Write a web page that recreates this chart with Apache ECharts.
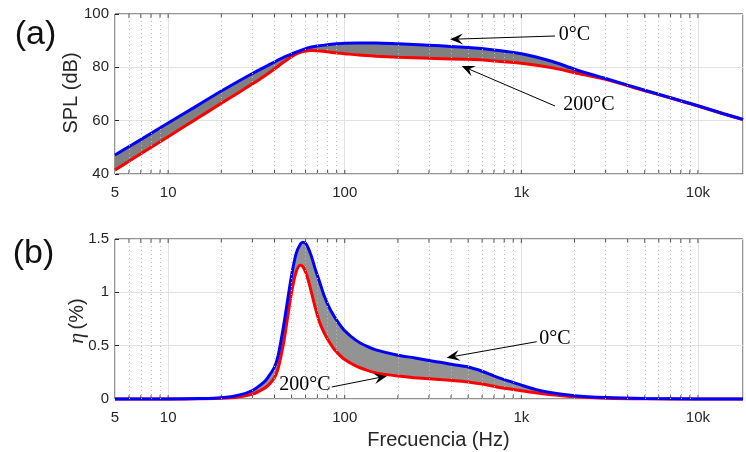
<!DOCTYPE html>
<html>
<head>
<meta charset="utf-8">
<script src="https://cdn.jsdelivr.net/npm/echarts@6/dist/echarts.min.js"></script>
<style>html,body{margin:0;padding:0;background:#fff;}#c{width:746px;height:452px;}</style>
</head>
<body>
<div id="c"></div>
<script>
// ---------- DATA ----------
const splFreq = [5, 7, 10, 14, 20, 25, 30, 35, 40, 45, 50, 55, 60, 65, 70, 80, 90, 100, 120, 150, 200, 300, 500, 700, 1000, 1500, 2000, 3000, 5000, 7000, 10000, 14000, 18000];
const splCold = [47.1, 52.9, 59.1, 64.9, 71.1, 74.8, 77.7, 80.0, 82.0, 83.7, 85.0, 86.1, 87.0, 87.6, 88.0, 88.5, 88.8, 89.0, 89.1, 89.1, 88.8, 88.3, 87.4, 86.5, 85.1, 82.2, 79.3, 75.8, 71.4, 68.6, 65.6, 62.6, 60.5];
const splHot  = [41.5, 47.6, 54.0, 60.1, 66.5, 70.5, 73.8, 76.7, 79.4, 81.9, 84.0, 85.4, 86.1, 86.3, 86.2, 85.8, 85.4, 85.1, 84.6, 84.2, 83.8, 83.4, 83.0, 82.4, 81.5, 79.8, 78.0, 75.5, 71.2, 68.5, 65.5, 62.5, 60.4];

const etaFreq = [5, 10, 15, 20, 25, 30, 35, 37, 40, 42, 45, 47, 50, 53, 56, 58, 60, 62, 65, 68, 72, 76, 80, 86, 90, 100, 117, 133, 150, 200, 250, 300, 360, 400, 500, 600, 740, 1000, 1200, 1400, 2000, 3000, 5000, 10000, 18000];
const etaCold = [0, 0.001, 0.004, 0.012, 0.035, 0.08, 0.16, 0.21, 0.30, 0.41, 0.68, 0.88, 1.16, 1.36, 1.45, 1.47, 1.46, 1.42, 1.33, 1.22, 1.10, 0.98, 0.89, 0.79, 0.74, 0.64, 0.545, 0.495, 0.46, 0.41, 0.385, 0.36, 0.34, 0.325, 0.30, 0.26, 0.20, 0.13, 0.09, 0.065, 0.031, 0.014, 0.005, 0.001, 0];
const etaHot  = [0, 0, 0.002, 0.006, 0.018, 0.045, 0.10, 0.13, 0.20, 0.29, 0.52, 0.72, 1.00, 1.19, 1.255, 1.24, 1.19, 1.12, 0.99, 0.86, 0.72, 0.63, 0.56, 0.48, 0.44, 0.37, 0.305, 0.27, 0.245, 0.215, 0.20, 0.19, 0.18, 0.175, 0.16, 0.14, 0.11, 0.078, 0.058, 0.045, 0.022, 0.008, 0.002, 0, 0];

const majorFreqs = [10, 100, 1000, 10000];
const minorFreqs = [6, 7, 8, 9, 20, 30, 40, 50, 60, 70, 80, 90, 200, 300, 400, 500, 600, 700, 800, 900, 2000, 3000, 4000, 5000, 6000, 7000, 8000, 9000];
const xTickLabels = {5: '5', 10: '10', 100: '100', 1000: '1k', 10000: '10k'};
const splRange = [40, 100, 20];
const etaRange = [0, 1.5, 0.5];
const texts = {
  a: '(a)', b: '(b)', ySpl: 'SPL (dB)', xName: 'Frecuencia (Hz)',
  cold: '0°C', hot: '200°C'
};

// ---------- STYLE ----------
const SANS = "'Liberation Sans', Arial, Helvetica, sans-serif";
const SERIF = "'Liberation Serif', 'Times New Roman', serif";
const AX = '#262626';
const SMOOTH = 0.3;

const chart = echarts.init(document.getElementById('c'), null, {renderer: 'canvas'});

function pairs(f, v) { return f.map((x, i) => [x, v[i]]); }

function xAxisCfg(gi) {
  return {
    type: 'log', logBase: 10, gridIndex: gi, min: 5, max: 18000,
    axisLine: {show: false}, axisTick: {show: false},
    splitLine: {show: true, lineStyle: {color: '#e2e2e2', width: 1}},
    axisLabel: {
      margin: 11, color: AX, fontSize: 15, fontFamily: SANS,
      formatter: v => { const r = Math.round(v); return xTickLabels[r] !== undefined ? xTickLabels[r] : ''; }
    }
  };
}
function yAxisCfg(gi, rng) {
  return {
    type: 'value', gridIndex: gi, min: rng[0], max: rng[1], interval: rng[2],
    axisLine: {show: false},
    axisTick: {show: true, inside: true, length: 4, lineStyle: {color: AX}},
    splitLine: {show: true, lineStyle: {color: '#e2e2e2', width: 1}},
    axisLabel: {margin: 6, color: AX, fontSize: 15, fontFamily: SANS}
  };
}

function panelSeries(gi, freq, cold, hot, rng, bandColor) {
  const tickData = [];
  majorFreqs.concat(minorFreqs).forEach(f => {
    tickData.push({value: [f, rng[0]], symbolOffset: [0, -2]});
    tickData.push({value: [f, rng[1]], symbolOffset: [0, 2]});
  });
  return [
    {
      type: 'scatter', xAxisIndex: gi, yAxisIndex: gi, z: 1, silent: true,
      symbol: 'rect', symbolSize: [1, 4], itemStyle: {color: AX},
      data: tickData,
      markLine: {
        silent: true, symbol: 'none', label: {show: false},
        lineStyle: {color: '#bcbcbc', width: 1, type: [1, 3]},
        data: minorFreqs.map(f => ({xAxis: f}))
      }
    },
    {
      // gray band between the 0°C and 200°C curves
      type: 'custom', xAxisIndex: gi, yAxisIndex: gi, z: 2, silent: true, clip: true,
      data: freq.map((f, i) => [f, cold[i], hot[i]]),
      renderItem: (params, api) => {
        if (params.dataIndex !== 0) return null;
        const up = freq.map((f, i) => api.coord([f, cold[i]]));
        const lo = freq.map((f, i) => api.coord([f, hot[i]])).reverse();
        return {
          type: 'polygon',
          shape: {points: up.concat(lo), smooth: SMOOTH},
          style: {fill: bandColor, stroke: bandColor, lineWidth: 1}
        };
      }
    },
    {
      type: 'line', xAxisIndex: gi, yAxisIndex: gi, z: 3, clip: false,
      showSymbol: false, smooth: SMOOTH, lineStyle: {width: 3, color: '#ff0000'},
      data: pairs(freq, hot)
    },
    {
      type: 'line', xAxisIndex: gi, yAxisIndex: gi, z: 4, clip: false,
      showSymbol: false, smooth: SMOOTH, lineStyle: {width: 3, color: '#0000ff'},
      data: pairs(freq, cold)
    }
  ];
}

function arrow(x1, y1, x2, y2) {
  const dx = x2 - x1, dy = y2 - y1, L = Math.hypot(dx, dy);
  const ux = dx / L, uy = dy / L, px = -uy, py = ux;
  const len = 13, hw = 5.5, notch = 8;
  const bx = x2 - ux * len, by = y2 - uy * len;
  const nx = x2 - ux * notch, ny = y2 - uy * notch;
  return [
    {type: 'line', shape: {x1: x1, y1: y1, x2: nx, y2: ny}, style: {stroke: '#000', lineWidth: 1}, z: 100},
    {type: 'polygon', shape: {points: [[x2, y2], [bx + px * hw, by + py * hw], [nx, ny], [bx - px * hw, by - py * hw]]}, style: {fill: '#000'}, z: 100}
  ];
}
function txt(t, x, y, font, color, extra) {
  return Object.assign({type: 'text', x: x, y: y, z: 100,
    style: {text: t, font: font, fill: color, align: 'center', verticalAlign: 'middle'}}, extra || {});
}

const graphics = [].concat(
  arrow(555, 36, 450, 39.3),
  arrow(555, 106, 461.7, 66),
  arrow(536.7, 341.7, 446.7, 357.7),
  arrow(331.7, 387, 387, 376),
  [
    txt(texts.cold, 574.5, 34.5, '20px ' + SERIF, '#000'),
    txt(texts.hot, 589, 105, '20px ' + SERIF, '#000'),
    txt(texts.cold, 555, 338.5, '20px ' + SERIF, '#000'),
    txt(texts.hot, 305, 385, '20px ' + SERIF, '#000'),
    txt(texts.a, 35.5, 35, '34px ' + SANS, '#111'),
    txt(texts.b, 33.5, 254, '34px ' + SANS, '#111'),
    txt(texts.ySpl, 71, 93, '20px ' + SANS, AX, {rotation: Math.PI / 2}),
    {type: 'text', x: 77, y: 321, rotation: Math.PI / 2, z: 100,
      style: {
        text: '{e|η} {p|(%)}', align: 'center', verticalAlign: 'middle',
        rich: {
          e: {font: 'italic 22px ' + SERIF, fill: AX},
          p: {font: '20px ' + SANS, fill: AX}
        }
      }},
    txt(texts.xName, 438.5, 440, '20px ' + SANS, AX)
  ]
);

const option = {
  animation: false,
  backgroundColor: '#ffffff',
  grid: [
    {left: 115, top: 14, width: 635, height: 160, show: true, borderColor: AX, borderWidth: 1, backgroundColor: 'transparent'},
    {left: 115, top: 239, width: 635, height: 160, show: true, borderColor: AX, borderWidth: 1, backgroundColor: 'transparent'}
  ],
  xAxis: [xAxisCfg(0), xAxisCfg(1)],
  yAxis: [yAxisCfg(0, splRange), yAxisCfg(1, etaRange)],
  series: [].concat(
    panelSeries(0, splFreq, splCold, splHot, splRange, '#808080'),
    panelSeries(1, etaFreq, etaCold, etaHot, etaRange, '#939393')
  ),
  graphic: graphics
};
chart.setOption(option);
</script>
</body>
</html>
